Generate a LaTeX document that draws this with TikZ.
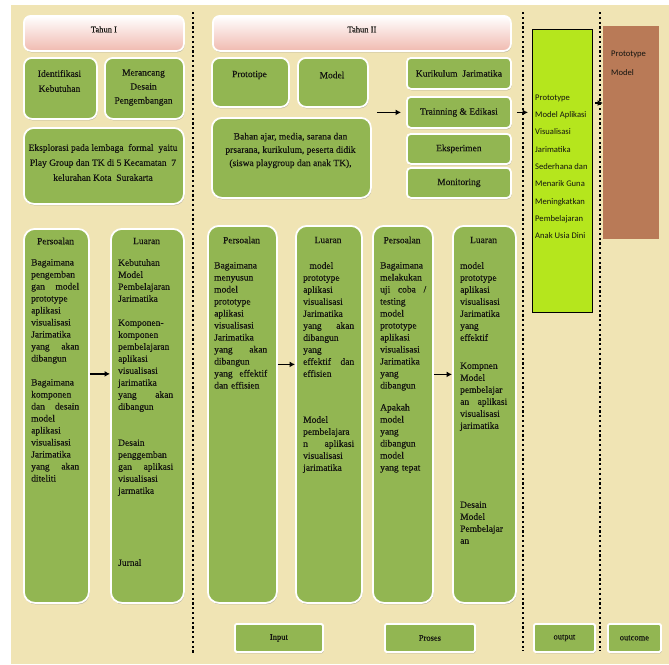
\documentclass[tikz,border=0pt]{standalone}
\usepackage{fontspec}
\setmainfont{Liberation Serif}[FakeBold=0.3]
\newfontfamily\calfont{Carlito}
\usetikzlibrary{arrows.meta,shadows}
\definecolor{bgtan}{RGB}{240,228,180}
\definecolor{boxgreen}{RGB}{146,182,82}
\definecolor{limeg}{RGB}{181,230,29}
\definecolor{brownb}{RGB}{185,122,87}
\definecolor{pinkb}{RGB}{240,186,176}
\definecolor{txt}{RGB}{20,20,16}
\tikzset{
  gbox/.style={draw=white, line width=1.8pt, fill=boxgreen, rounded corners=#1,
    drop shadow={shadow xshift=0.6pt, shadow yshift=-1.4pt, fill=black!50, opacity=0.45},
    inner sep=0pt, anchor=north west},
  gbox/.default=6pt,
  hbox/.style={draw=white, line width=1.8pt, top color=white, bottom color=pinkb, rounded corners=7pt,
    drop shadow={shadow xshift=0.6pt, shadow yshift=-1.4pt, fill=black!50, opacity=0.45},
    inner sep=0pt, anchor=north west},
  tx/.style={text=txt, font=\fontsize{9.5}{12}\selectfont, inner sep=0pt},
  body/.style={tx, anchor=north west, align=left},
  arr/.style={-{Latex[length=5.5pt,width=6pt]}, line width=1.7pt, black},
  dotline/.style={line width=2.2pt, dash pattern=on 2.2pt off 2.6pt, black},
  lbl/.style={text=txt, font=\fontsize{8.5}{10}\selectfont, inner sep=0pt}
}
\begin{document}
\begin{tikzpicture}[x=1pt,y=-1pt]
\useasboundingbox (0,0) rectangle (669,664);
\fill[white] (0,0) rectangle (669,664);
\fill[bgtan] (11,5) rectangle (669,664);

% dotted separators
\coordinate (d1t) at (193,12); \coordinate (d1b) at (193,653);
\coordinate (d2t) at (523,12); \coordinate (d2b) at (523,651);
\coordinate (d3t) at (600,12); \coordinate (d3b) at (600,651);
\draw[dotline] (d1t) -- (d1b);
\draw[dotline] (d2t) -- (d2b);
\draw[dotline] (d3t) -- (d3b);

% headers
\node[hbox, minimum width=160pt, minimum height=35pt] (th1) at (23,15) {};
\node[hbox, minimum width=298pt, minimum height=35pt] (th2) at (212,15) {};
\node[lbl] (th1t) at ([yshift=4pt]th1.center) {Tahun I};
\node[lbl] (th2t) at ([yshift=4pt]th2.center) {Tahun II};

% Tahun I top boxes
\node[gbox=8pt, minimum width=73pt, minimum height=61pt] (ident) at (23,57) {};
\node[gbox=8pt, minimum width=79pt, minimum height=61pt] (meran) at (104,57) {};
\node[gbox=10pt, minimum width=160pt, minimum height=76pt] (eksp) at (23,127) {};
\node[tx, align=center, font=\fontsize{9.5}{15}\selectfont] (identt) at (59.5,81) {Identifikasi\\Kebutuhan};
\node[tx, align=center, font=\fontsize{9.5}{14}\selectfont] (merant) at (143.5,87.5) {Merancang\\Desain\\Pengembangan};
\node[tx, align=center, font=\fontsize{9.5}{15}\selectfont] (ekspt) at (103,162.5) {Eksplorasi pada lembaga\ \ formal\ \ yaitu\\Play Group dan TK di 5 Kecamatan\ \ 7\\kelurahan Kota\ \ Surakarta};

% Tahun II top boxes
\node[gbox=8pt, minimum width=77pt, minimum height=49pt] (proto) at (211,57) {};
\node[gbox=8pt, minimum width=70pt, minimum height=49pt] (model) at (297,57) {};
\node[gbox=10pt, minimum width=159pt, minimum height=80pt] (bahan) at (211,117) {};
\node[tx] (protot) at (249.5,75) {Prototipe};
\node[tx] (modelt) at (332,75) {Model};
\node[tx, align=center, font=\fontsize{9.5}{13.3}\selectfont] (bahant) at (290.5,150.5) {Bahan ajar, media, sarana dan\\prsarana, kurikulum, peserta didik\\(siswa playgroup dan anak TK),};

\node[gbox=4pt, minimum width=104pt, minimum height=31pt] (kurik) at (406,57) {};
\node[gbox=4pt, minimum width=104pt, minimum height=31pt] (train) at (406,96) {};
\node[gbox=4pt, minimum width=104pt, minimum height=30pt] (eksper) at (406,133) {};
\node[gbox=4pt, minimum width=104pt, minimum height=30pt] (monit) at (406,167) {};
\node[tx] (kurikt) at (kurik.center) {Kurikulum\ \ Jarimatika};
\node[tx] (traint) at (train.center) {Trainning \& Edikasi};
\node[tx] (ekspert) at (eksper.center) {Eksperimen};
\node[tx] (monitt) at (monit.center) {Monitoring};

% output / outcome boxes
\node[draw=black, line width=0.8pt, fill=limeg, minimum width=60pt, minimum height=283pt, inner sep=0pt, anchor=north west] (lime) at (532,29) {};
\node[fill=brownb, minimum width=56pt, minimum height=213pt, inner sep=0pt, anchor=north west] (brown) at (603,26) {};
\node[anchor=north west, inner sep=0pt, text=txt, align=left, font=\calfont\fontsize{8.6}{17.3}\selectfont] (limet) at (535,94.5) {Prototype\\Model Aplikasi\\Visualisasi\\Jarimatika\\Sederhana dan\\Menarik Guna\\Meningkatkan\\Pembelajaran\\Anak Usia Dini};
\node[anchor=north west, inner sep=0pt, text=txt, align=left, font=\calfont\fontsize{8.6}{19}\selectfont] (brownt) at (611,50.5) {Prototype\\Model};

% tall boxes
\node[gbox=11pt, minimum width=65pt, minimum height=374pt] (b1) at (23,228) {};
\node[gbox=11pt, minimum width=73pt, minimum height=374pt] (b2) at (110,228) {};
\node[gbox=11pt, minimum width=69pt, minimum height=377pt] (b3) at (207,225) {};
\node[gbox=11pt, minimum width=66pt, minimum height=377pt] (b4) at (295,225) {};
\node[gbox=11pt, minimum width=60pt, minimum height=377pt] (b5) at (372,225) {};
\node[gbox=11pt, minimum width=63pt, minimum height=377pt] (b6) at (452,225) {};

\node[tx] (b1h) at (55.5,241) {Persoalan};
\node[tx] (b2h) at (146.5,241) {Luaran};
\node[tx] (b3h) at (241.5,240) {Persoalan};
\node[tx] (b4h) at (328,240) {Luaran};
\node[tx] (b5h) at (402,240) {Persoalan};
\node[tx] (b6h) at (483.5,240) {Luaran};

\node[body, text width=48pt] (b1t) at (31,259) {Bagaimana\\pengemban\\gan\hfill model\\prototype\\aplikasi\\visualisasi\\Jarimatika\\yang\hfill akan\\dibangun\\[12pt]Bagaimana\\komponen\\dan\hfill desain\\model\\aplikasi\\visualisasi\\Jarimatika\\yang\hfill akan\\diteliti};
\node[body, text width=55pt] (b2t) at (118,259) {Kebutuhan\\Model\\Pembelajaran\\Jarimatika\\[12pt]Komponen-\\komponen\\pembelajaran\\aplikasi\\visualisasi\\jarimatika\\yang\hfill akan\\dibangun\\[24pt]Desain\\penggemban\\gan\hfill aplikasi\\visualisasi\\jarmatika\\[60pt]Jurnal};
\node[body, text width=53pt] (b3t) at (214,262) {Bagaimana\\menyusun\\model\\prototype\\aplikasi\\visualisasi\\Jarimatika\\yang\hfill akan\\dibangun\\yang\hfill effektif\\dan effisien};
\node[body, text width=51pt] (b4t) at (303,262) {\ \ model\\prototype\\aplikasi\\visualisasi\\Jarimatika\\yang\hfill akan\\dibangun\\yang\\effektif\hfill dan\\effisien\\[34pt]Model\\pembelajara\\n\hfill aplikasi\\visualisasi\\jarimatika};
\node[body, text width=46pt] (b5t) at (380,262) {Bagaimana\\melakukan\\uji\hfill coba\hfill /\\testing\\model\\prototype\\aplikasi\\visualisasi\\Jarimatika\\yang\\dibangun\\[10pt]Apakah\\model\\yang\\dibangun\\model\\yang tepat};
\node[body, text width=47pt] (b6t) at (460,262) {model\\prototype\\aplikasi\\visualisasi\\Jarimatika\\yang\\effektif\\[16pt]Kompnen\\Model\\pembelajar\\an\hfill aplikasi\\visualisasi\\jarimatika\\[67pt]Desain\\Model\\Pembelajar\\an};

% bottom labels
\node[gbox=1.5pt, minimum width=88pt, minimum height=28pt] (inp) at (234,623) {};
\node[gbox=1.5pt, minimum width=90pt, minimum height=28pt] (pro) at (384,623) {};
\node[gbox=1.5pt, minimum width=61pt, minimum height=28pt] (out) at (533,623) {};
\node[gbox=1.5pt, minimum width=53pt, minimum height=28pt] (outc) at (607,623) {};
\node[lbl] (inpt) at (inp.center) {Input};
\node[lbl] (prot) at (pro.center) {Proses};
\node[lbl] (outt) at (out.center) {output};
\node[lbl] (outct) at (outc.center) {outcome};

% arrows
\draw[arr, shorten <=5pt, shorten >=5pt] (bahan.east |- train.west) -- (train.west);
\draw[arr, shorten <=5pt, shorten >=4pt] (train.east) -- (lime.west |- train.east);
\coordinate (a6y) at (0,103);
\draw[arr, shorten <=2pt] (lime.east |- a6y) -- (brown.west |- a6y);
\draw[arr] ([yshift=42pt]b1.east) -- ([yshift=42pt]b2.west);
\draw[arr] ([yshift=50pt]b3.east) -- ([yshift=50pt]b4.west);
\draw[arr] ([yshift=40pt]b5.east) -- ([yshift=40pt]b6.west);
\end{tikzpicture}
\end{document}
